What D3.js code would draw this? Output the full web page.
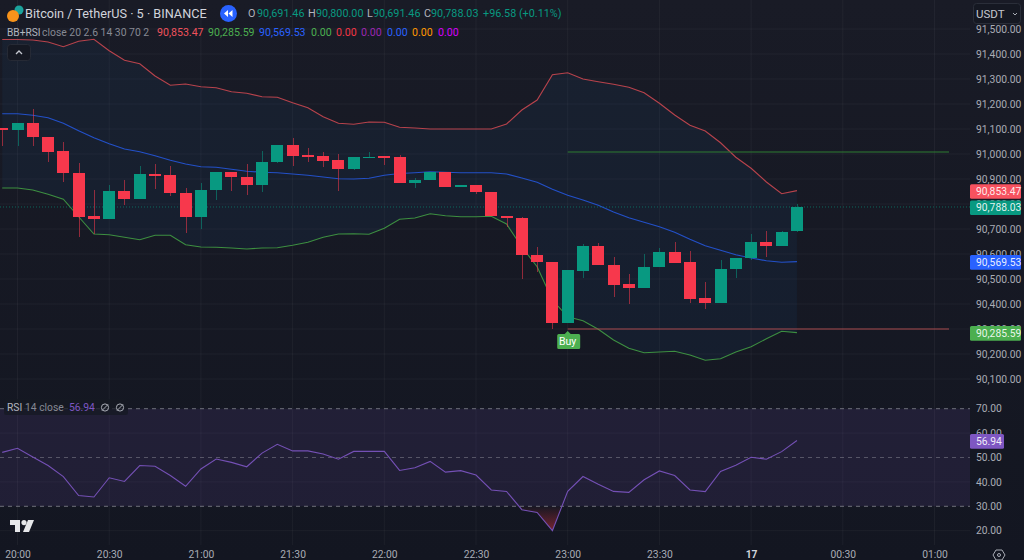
<!DOCTYPE html>
<html><head><meta charset="utf-8">
<style>html,body{margin:0;padding:0;background:#141722;overflow:hidden}svg{display:block}text{font-family:Roboto,sans-serif}</style>
<script src="https://cdn.jsdelivr.net/npm/d3@7"></script></head>
<body><svg id="c" width="1024" height="560"></svg>
<script>
const barIndex = d3.range(-1, 52);
const opens = [91105,91095,91123,91069,91011,90923,90752,90739,90852,90820,90920,90917,90845,90749,90856,90927,90907,90876,90969,91035,90995,90992,90975,90939,90988,90992,90989,90883,90896,90928,90868,90876,90847,90752,90745,90596,90568,90324,90533,90633,90557,90479,90465,90547,90608,90567,90423,90404,90540,90583,90649,90631,90691.46];
const closes = [91095,91123,91069,91009,90923,90749,90739,90852,90820,90920,90916,90843,90749,90856,90927,90907,90876,90969,91035,90993,90992,90972,90939,90988,90990,90990,90883,90896,90929,90868,90876,90848,90751,90744,90595,90567,90324,90535,90633,90555,90476,90465,90547,90608,90565,90421,90404,90540,90583,90649,90631,90688,90788.03];
const highs = [91105,91123,91179,91069,91047,90965,90856,90876,90896,90952,90960,90952,90863,90883,90928,90927,90960,91011,91035,91065,91023,91008,91000,90990,91007,90992,90996,90903,90930,90928,90876,90876,90850,90752,90748,90629,90568,90536,90639,90645,90589,90520,90599,90623,90649,90613,90488,90576,90583,90681,90693,90693,90800];
const lows = [91032,91032,91032,90969,90887,90669,90679,90739,90796,90820,90860,90833,90683,90700,90816,90853,90837,90847,90966,90953,90967,90949,90853,90938,90988,90956,90883,90863,90895,90868,90868,90839,90751,90709,90499,90529,90299,90324,90503,90555,90429,90400,90465,90547,90565,90403,90379,90404,90503,90576,90589,90631,90688];
const upperBand = [91458,91458,91456,91448,91429,91451,91459,91413,91375,91361,91312,91275,91280,91269,91265,91249,91243,91229,91227,91205,91185,91149,91123,91119,91128,91127,91107,91104,91100,91100,91100,91100,91100,91120,91176,91216,91317,91325,91300,91289,91279,91267,91245,91203,91156,91115,91092,91045,90987,90943,90888,90841,90853.47];
const middleBand = [91161,91161,91155,91145,91123,91093,91065,91041,91020,91009,90993,90975,90960,90949,90947,90939,90931,90927,90925,90920,90915,90908,90901,90900,90903,90915,90922,90925,90929,90927,90925,90925,90925,90920,90904,90887,90859,90835,90816,90795,90768,90745,90727,90709,90687,90659,90633,90615,90597,90584,90573,90567,90569.53];
const lowerBand = [90864,90864,90856,90839,90819,90749,90680,90677,90667,90657,90675,90675,90637,90628,90627,90624,90620,90624,90625,90635,90647,90667,90680,90681,90679,90703,90739,90744,90761,90753,90749,90749,90751,90720,90628,90549,90416,90349,90333,90299,90256,90223,90205,90208,90211,90196,90175,90181,90208,90229,90261,90291,90285.59];
const rsiValues = [52.1,53.8,50.2,46.7,42.2,34.4,33.8,41.7,40.2,46.7,46.4,42.6,38.2,45.3,49.4,48,46.2,51.8,55.4,52.7,52.7,51.4,49.3,52.5,52.5,52.5,44.7,45.8,48.4,44,44.6,42.8,36.7,36.1,28.6,27.5,20,36.1,42.2,39,36.1,35.7,40.9,44.5,42.6,36.7,36,44.3,46.8,50.1,49.3,52.4,56.94];
const priceTicks = d3.range(90100, 91501, 100);
const rsiTicks = [20,30,40,50,60,70];
const rsiDashed = [30,50,70];
const timeTickBars = [0,6,12,18,24,30,36,42,48,54,60];
const timeTickLabels = ["20:00","20:30","21:00","21:30","22:00","22:30","23:00","23:30","17","00:30","01:00"];
const buyBar = 36, levelStartBar = 36;
const resistance = 91008, support = 90300, lastClose = 90788.03;
const legendValues = ["90,853.47","90,285.59","90,569.53","0.00","0.00","0.00","0.00","0.00","0.00"];
const legendColors = ["#f0525c","#4caf50","#2962ff","#4caf50","#f23645","#9c27b0","#2962ff","#ff9800","#d500f9"];

const UP="#089981", DOWN="#f7384c", TXT="#a9acb5";
const svg=d3.select("#c");
const x=d3.scaleLinear().domain([0,60]).range([17.5,934.5]);
const y=d3.scaleLinear().domain([90100,91000]).range([379,154]);
const r=d3.scaleLinear().domain([30,70]).range([506.3,408.7]);
const plotR=970, paneBot=394, rsiBot=545;
const defs=svg.append("defs");
defs.append("clipPath").attr("id","pp").append("rect").attr("width",plotR).attr("height",paneBot);
defs.append("clipPath").attr("id","rp").append("rect").attr("y",paneBot).attr("width",plotR).attr("height",rsiBot-paneBot);
const lg=defs.append("linearGradient").attr("id","os").attr("x1",0).attr("x2",0).attr("y1",0).attr("y2",1);
lg.append("stop").attr("offset",0).attr("stop-color","#f23645").attr("stop-opacity",0.02);
lg.append("stop").attr("offset",1).attr("stop-color","#f23645").attr("stop-opacity",0.45);
const bgG=defs.append("linearGradient").attr("id","bg").attr("x1",0).attr("x2",0).attr("y1",0).attr("y2",1);
bgG.append("stop").attr("offset",0).attr("stop-color","#191b26");
bgG.append("stop").attr("offset",1).attr("stop-color","#131621");
svg.append("rect").attr("width",1024).attr("height",560).attr("fill","url(#bg)");

const grid=svg.append("g").attr("stroke","#ffffff").attr("stroke-opacity",0.045);
timeTickBars.forEach(b=>grid.append("line").attr("x1",x(b)).attr("x2",x(b)).attr("y1",0).attr("y2",rsiBot));
priceTicks.forEach(p=>grid.append("line").attr("x1",0).attr("x2",plotR).attr("y1",y(p)).attr("y2",y(p)));
rsiTicks.filter(v=>!rsiDashed.includes(v)).forEach(v=>grid.append("line").attr("x1",0).attr("x2",plotR).attr("y1",r(v)).attr("y2",r(v)));

const rows=barIndex.map((b,i)=>({b,o:opens[i],c:closes[i],h:highs[i],l:lows[i],u:upperBand[i],m:middleBand[i],d:lowerBand[i],s:rsiValues[i]}));
const main=svg.append("g").attr("clip-path","url(#pp)");
main.append("path").attr("d",d3.area().x(d=>x(d.b)).y0(d=>y(d.u)).y1(d=>y(d.d))(rows)).attr("fill","#1a4f8a").attr("fill-opacity",0.11);
const ln=k=>d3.line().x(d=>x(d.b)).y(d=>y(d[k]))(rows);
main.append("path").attr("d",ln("u")).attr("fill","none").attr("stroke","#b8434c").attr("stroke-width",1.1);
main.append("path").attr("d",ln("d")).attr("fill","none").attr("stroke","#3d8f41").attr("stroke-width",1.1);
main.append("path").attr("d",ln("m")).attr("fill","none").attr("stroke","#2350c8").attr("stroke-width",1.2);

main.append("line").attr("x1",0).attr("x2",plotR).attr("y1",y(lastClose)).attr("y2",y(lastClose)).attr("stroke",UP).attr("stroke-opacity",.6).attr("stroke-dasharray","1 2");
const levels=main.append("g");
levels.append("line").attr("x1",x(levelStartBar)).attr("x2",949).attr("y1",y(resistance)).attr("y2",y(resistance)).attr("stroke","#2e7d32").attr("stroke-width",1.2);
levels.append("line").attr("x1",x(levelStartBar)).attr("x2",949).attr("y1",y(support)).attr("y2",y(support)).attr("stroke","#a84a4e").attr("stroke-width",1.2);

const candle=main.append("g").selectAll("g").data(rows).join("g").attr("shape-rendering","crispEdges");
candle.append("line").attr("x1",d=>Math.round(x(d.b))).attr("x2",d=>Math.round(x(d.b))).attr("y1",d=>y(d.h)).attr("y2",d=>y(d.l)).attr("stroke",d=>d.c>=d.o?UP:DOWN).attr("stroke-opacity",.55);
candle.append("rect").attr("x",d=>Math.round(x(d.b))-6).attr("width",12).attr("y",d=>y(Math.max(d.o,d.c))).attr("height",d=>Math.max(1.5,Math.abs(y(d.o)-y(d.c)))).attr("fill",d=>d.c>=d.o?UP:DOWN);

// Buy label
const bx=x(buyBar);
svg.append("path").attr("d",`M${bx-9.5},334 h6.5 l3,-3 l3,3 h8 a1.5,1.5 0 0 1 1.5,1.5 v12 a1.5,1.5 0 0 1 -1.5,1.5 h-20 a1.5,1.5 0 0 1 -1.5,-1.5 v-12 a1.5,1.5 0 0 1 1.5,-1.5z`).attr("fill","#4caf50");
svg.append("text").attr("x",bx).attr("y",345.2).attr("text-anchor","middle").attr("fill","#fff").attr("font-size",10.5).text("Buy");

// RSI pane
const rsiG=svg.append("g").attr("clip-path","url(#rp)");
rsiG.append("rect").attr("x",0).attr("width",plotR).attr("y",r(70)).attr("height",r(30)-r(70)).attr("fill","#7e57c2").attr("fill-opacity",0.13);
const osRows=[];
rows.forEach((d,i)=>{const p=rows[i-1];
  if(p&&((p.s-30)*(d.s-30)<0)){const t=(30-p.s)/(d.s-p.s);osRows.push({b:p.b+t,s:30});}
  if(d.s<30)osRows.push(d);});
rsiG.append("path").attr("d",d3.area().x(d=>x(d.b)).y0(r(30)).y1(d=>r(d.s))(osRows)).attr("fill","url(#os)");
rsiDashed.forEach(v=>rsiG.append("line").attr("x1",0).attr("x2",plotR).attr("y1",r(v)).attr("y2",r(v)).attr("stroke","#8b8c96").attr("stroke-opacity",v===50?.5:.75).attr("stroke-dasharray","4 4"));
rsiG.append("path").attr("d",d3.line().x(d=>x(d.b)).y(d=>r(d.s))(rows)).attr("fill","none").attr("stroke","#7450b5").attr("stroke-width",1.1);

// Axes
const AX=10.3;
const styleAxis=g=>{g.select(".domain").remove();g.selectAll(".tick line").remove();g.selectAll("text").attr("fill",TXT).attr("font-size",AX).attr("font-family","Roboto,sans-serif");};
svg.append("g").attr("transform",`translate(${plotR+3},0)`).call(d3.axisRight(y).tickValues(priceTicks).tickFormat(d3.format(",.2f")).tickSize(0)).call(styleAxis);
svg.append("g").attr("transform",`translate(${plotR+3},0)`).call(d3.axisRight(r).tickValues(rsiTicks).tickFormat(d3.format(".2f")).tickSize(0)).call(styleAxis);
const tx=svg.append("g").attr("transform",`translate(0,${rsiBot+2.5})`).call(d3.axisBottom(x).tickValues(timeTickBars).tickFormat((d,i)=>timeTickLabels[i]).tickSize(0)).call(styleAxis);
tx.selectAll("text").attr("font-weight",(d,i)=>timeTickLabels[i]==="17"?"bold":null).attr("fill",(d,i)=>timeTickLabels[i]==="17"?"#d1d4dc":TXT);

// Price badges
function badge(val,col,sc,fmt,w){const c=sc(val)+0.8;
  svg.append("rect").attr("x",plotR).attr("y",c-7.3).attr("width",w).attr("height",14.6).attr("rx",1.5).attr("fill",col);
  svg.append("text").attr("x",plotR+6).attr("y",c+3.7).attr("fill","#fff").attr("fill-opacity",.9).attr("font-size",AX).text(fmt(val));}
const fp=d3.format(",.2f");
badge(upperBand[upperBand.length-1],"#f7525f",y,fp,51);
badge(lastClose,UP,y,fp,51);
badge(middleBand[middleBand.length-1],"#2962ff",y,fp,51);
badge(lowerBand[lowerBand.length-1],"#4caf50",y,fp,51);
badge(rsiValues[rsiValues.length-1],"#7e57c2",r,d3.format(".2f"),34);

// USDT
svg.append("rect").attr("x",973.5).attr("y",3.5).attr("width",47).attr("height",20).attr("rx",3).attr("fill","#151822").attr("stroke","#2a2e39");
svg.append("text").attr("x",976).attr("y",18).attr("fill","#c4c7cf").attr("font-size",11.5).text("USDT");
svg.append("path").attr("d","M1013,13 l2,2 l2,-2").attr("fill","none").attr("stroke","#a9acb5");

// Settings icon
const gear=svg.append("g").attr("transform","translate(999,555)");
gear.append("path").attr("d","M-3,-5 h6 l3,5 l-3,5 h-6 l-3,-5z").attr("fill","none").attr("stroke","#a9acb5");
gear.append("circle").attr("r",1.5).attr("fill","none").attr("stroke","#a9acb5");

// Header
svg.append("circle").attr("cx",19).attr("cy",10).attr("r",4.5).attr("fill","#1ba39c");
svg.append("circle").attr("cx",13).attr("cy",16).attr("r",6).attr("fill","#f7931a");
svg.append("text").attr("x",25).attr("y",18).attr("fill","#d1d4dc").attr("font-size",12.7).text("Bitcoin / TetherUS · 5 · BINANCE");
svg.append("circle").attr("cx",228.5).attr("cy",13.5).attr("r",8.5).attr("fill","#2962ff");
svg.append("path").attr("d","M228,10 l-4,3.5 l4,3.5z M232.5,10 l-4,3.5 l4,3.5z").attr("fill","#fff");
const ohlc=[["O",248,"#b2b5be"],["90,691.46",257,UP],["H",308,"#b2b5be"],["90,800.00",316,UP],["L",367,"#b2b5be"],["90,691.46",373,UP],["C",424,"#b2b5be"],["90,788.03",431,UP],["+96.58 (+0.11%)",483,UP]];
ohlc.forEach(o=>svg.append("text").attr("x",o[1]).attr("y",17).attr("fill",o[2]).attr("font-size",10.8).text(o[0]));
svg.append("text").attr("x",7).attr("y",36).attr("fill","#b2b5be").attr("font-size",10.2).text("BB+RSI");
svg.append("text").attr("x",42).attr("y",36).attr("fill","#868993").attr("font-size",10.4).text("close 20 2.6 14 30 70 2");
const legendX=[157,208,259,311,336,361,387,412,438];
legendValues.forEach((v,i)=>svg.append("text").attr("x",legendX[i]).attr("y",36).attr("fill",legendColors[i]).attr("font-size",10.6).text(v));
svg.append("rect").attr("x",7.5).attr("y",44.5).attr("width",23).attr("height",16).attr("rx",3).attr("fill","#151822").attr("stroke","#262a35");
svg.append("path").attr("d","M16,54 l3,-3 l3,3").attr("fill","none").attr("stroke","#c4c7cf").attr("stroke-width",1.3);

// RSI legend
svg.append("rect").attr("x",4).attr("y",399).attr("width",124).attr("height",16).attr("rx",2).attr("fill","#161923").attr("fill-opacity",.75);
svg.append("text").attr("x",7).attr("y",411).attr("fill","#b2b5be").attr("font-size",10.3).text("RSI");
svg.append("text").attr("x",25).attr("y",411).attr("fill","#868993").attr("font-size",10.3).text("14 close");
svg.append("text").attr("x",69).attr("y",411).attr("fill","#7e57c2").attr("font-size",10.3).text("56.94");
[105,120].forEach(cx=>{const g=svg.append("g").attr("transform",`translate(${cx},407.5)`).attr("fill","none").attr("stroke","#a9acb5");
  g.append("circle").attr("r",3.6);g.append("path").attr("d","M-3,3 L3,-3");});

// Logo
const logo=svg.append("g").attr("transform","translate(10,520)").attr("fill","#e6e7ea");
logo.append("path").attr("d","M0,0 H10 V12 H5 V5 H0Z");
logo.append("circle").attr("cx",14).attr("cy",2.6).attr("r",2.6);
logo.append("path").attr("d","M18,0 H24 L19,12 H13Z");
</script></body></html>
